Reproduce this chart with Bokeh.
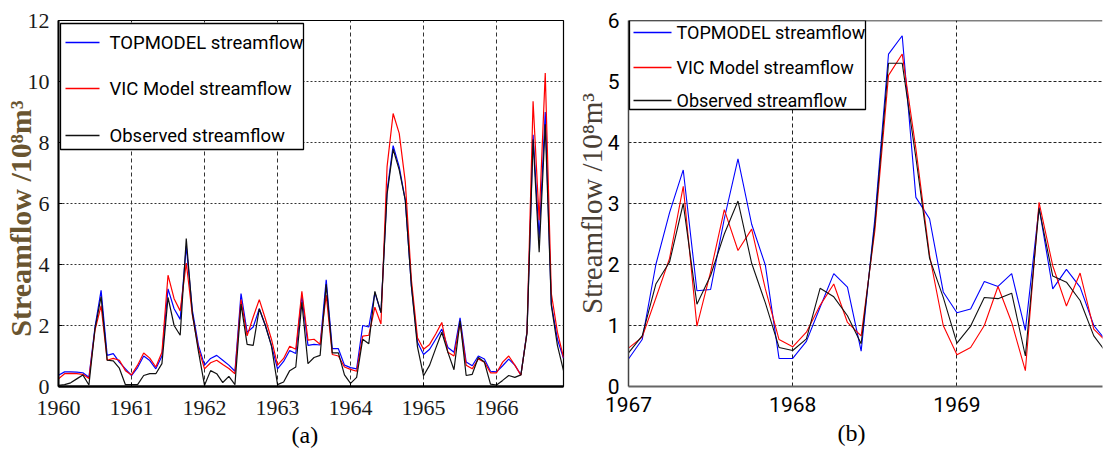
from bokeh.plotting import figure
from bokeh.layouts import row
from bokeh.models import FixedTicker, Label, Range1d, Title, BoxAnnotation, Arrow, Span
from bokeh.embed import file_html
from bokeh.resources import INLINE

# ---------------- data: panel (a), monthly 1960-01 .. 1966-12 ----------------
start_a = 1960
years_a = [1960, 1961, 1962, 1963, 1964, 1965, 1966]
yticks_a = [0, 2, 4, 6, 8, 10, 12]
topmodel_a = [0.37, 0.48, 0.48, 0.47, 0.45, 0.30, 1.95, 3.15, 1.02, 1.08, 0.80, 0.58,
              0.36, 0.62, 1.00, 0.85, 0.58, 1.00, 3.20, 2.55, 2.20, 4.60, 2.50, 1.35,
              0.70, 0.92, 1.02, 0.86, 0.70, 0.50, 3.05, 1.78, 1.95, 2.55, 2.00, 1.35,
              0.58, 0.82, 1.18, 1.08, 2.98, 1.35, 1.38, 1.36, 3.50, 1.24, 1.24, 0.70,
              0.62, 0.58, 2.00, 1.95, 3.08, 2.42, 6.40, 7.90, 7.20, 6.10, 3.30, 1.45,
              1.05, 1.22, 1.55, 1.88, 1.28, 1.12, 2.25, 0.80, 0.68, 1.00, 0.90, 0.50,
              0.48, 0.68, 0.90, 0.70, 0.38, 1.80, 8.25, 4.85, 9.00, 2.70, 1.55, 0.92]
vic_a = [0.25, 0.42, 0.43, 0.42, 0.40, 0.26, 1.85, 2.65, 0.86, 0.92, 0.86, 0.52,
         0.38, 0.70, 1.10, 0.93, 0.64, 1.12, 3.65, 2.88, 2.48, 4.05, 2.35, 1.25,
         0.58, 0.78, 0.86, 0.72, 0.59, 0.42, 2.85, 1.66, 2.28, 2.85, 2.22, 1.55,
         0.70, 0.92, 1.32, 1.22, 3.12, 1.52, 1.55, 1.38, 3.00, 1.05, 1.00, 0.64,
         0.56, 0.50, 1.65, 1.68, 2.60, 2.05, 7.20, 8.95, 8.30, 6.70, 3.50, 1.60,
         1.22, 1.38, 1.72, 2.10, 1.12, 1.00, 2.10, 0.70, 0.58, 0.90, 0.80, 0.45,
         0.45, 0.80, 1.00, 0.70, 0.37, 1.78, 9.35, 5.45, 10.28, 3.05, 1.78, 0.95]
obs_a = [0.04, 0.06, 0.12, 0.25, 0.38, 0.05, 1.90, 2.95, 0.86, 0.84, 0.60, 0.06,
         0.06, 0.06, 0.36, 0.42, 0.42, 0.75, 2.92, 2.00, 1.68, 4.85, 2.40, 1.15,
         0.04, 0.52, 0.42, 0.13, 0.33, 0.06, 2.70, 1.38, 1.35, 2.55, 2.00, 1.33,
         0.06, 0.15, 0.52, 0.64, 2.76, 0.75, 0.95, 1.02, 3.35, 1.10, 1.10, 0.38,
         0.10, 0.30, 1.55, 1.40, 3.12, 2.42, 6.30, 7.78, 7.10, 6.10, 3.30, 1.30,
         0.35, 0.70, 1.25, 1.78, 1.12, 0.55, 2.15, 0.36, 0.40, 0.95, 0.80, 0.08,
         0.05, 0.20, 0.36, 0.30, 0.38, 1.75, 8.10, 4.40, 8.60, 2.66, 1.35, 0.52]

# ---------------- data: panel (b), monthly 1967-01 .. 1969-12 ----------------
start_b = 1967
years_b = [1967, 1968, 1969]
yticks_b = [0, 1, 2, 3, 4, 5, 6]
topmodel_b = [0.45, 0.77, 2.00, 2.85, 3.55, 1.57, 1.59, 2.75, 3.73, 2.66, 1.99, 0.46,
              0.46, 0.74, 1.30, 1.85, 1.63, 0.58, 2.75, 5.45, 5.75, 3.10, 2.75, 1.55,
              1.21, 1.27, 1.72, 1.64, 1.85, 0.92, 2.94, 1.60, 1.92, 1.63, 1.00, 0.72]
vic_b = [0.63, 0.81, 1.45, 2.10, 3.28, 0.99, 1.88, 2.90, 2.23, 2.58, 1.60, 0.77,
         0.65, 0.89, 1.33, 1.68, 1.05, 0.83, 2.55, 5.10, 5.45, 3.90, 2.15, 1.00,
         0.52, 0.64, 1.00, 1.64, 1.05, 0.26, 3.02, 1.98, 1.32, 1.86, 0.94, 0.72]
obs_b = [0.55, 0.83, 1.68, 2.04, 3.00, 1.35, 1.82, 2.50, 3.04, 2.02, 1.37, 0.64,
         0.59, 0.78, 1.61, 1.47, 1.16, 0.70, 2.65, 5.30, 5.30, 3.75, 2.10, 1.46,
         0.71, 0.99, 1.46, 1.44, 1.53, 0.50, 2.92, 1.81, 1.71, 1.41, 0.83, 0.53]

series_names = ["TOPMODEL streamflow", "VIC Model streamflow", "Observed streamflow"]
series_colors = ["#0000ff", "#ff0000", "#111111"]
ylabel_text = "Streamflow /10\u2078m\u00b3"


def month_x(start, n):
    return [start + i / 12.0 for i in range(n)]


def manual_legend(p, box, rows_y, gx0, gx1, tx, font, size, border_w):
    left, right, top, bottom = box
    p.add_layout(BoxAnnotation(left=left, right=right, top=top, bottom=bottom,
                               left_units="screen", right_units="screen",
                               top_units="screen", bottom_units="screen",
                               fill_color="white", fill_alpha=1.0,
                               line_color="black", line_width=border_w, line_alpha=1.0))
    for yy, name, col in zip(rows_y, series_names, series_colors):
        p.add_layout(Arrow(end=None, x_start=gx0, x_end=gx1, y_start=yy, y_end=yy,
                           start_units="screen", end_units="screen",
                           line_color=col, line_width=1.4))
        p.add_layout(Label(x=tx, y=yy, x_units="screen", y_units="screen", text=name,
                           text_align="left", text_baseline="middle",
                           text_font=font, text_font_size=size, text_color="black"))


H = 458
TOP = 20
BOTTOM = 72

# ---------------- panel (a) ----------------
xa = month_x(start_a, len(obs_a))
p1 = figure(width=572, height=H, output_backend="svg", toolbar_location=None,
            x_range=Range1d(start_a, xa[-1]), y_range=Range1d(0, 12),
            min_border_left=56, min_border_right=9, min_border_top=TOP, min_border_bottom=BOTTOM)
for ys, col in zip([topmodel_a, vic_a, obs_a], series_colors):
    p1.line(xa, ys, line_color=col, line_width=1.2)

p1.xaxis.ticker = FixedTicker(ticks=years_a)
p1.yaxis.ticker = FixedTicker(ticks=yticks_a)
for ax in (p1.xaxis[0], p1.yaxis[0]):
    ax.major_label_text_font = "Liberation Serif"
    ax.major_label_text_font_size = "22px"
    ax.major_label_text_color = "#1a1a1a"
    ax.major_tick_in = 4
    ax.major_tick_out = 0
    ax.minor_tick_line_color = None
    ax.axis_line_color = "black"
p1.xaxis.axis_line_width = 2.5
p1.yaxis.axis_line_width = 2
p1.xaxis.major_label_standoff = 14
p1.yaxis.major_label_standoff = 9
# trailing no-break spaces move the rotated title a little down, as in the reference
p1.yaxis.axis_label = ylabel_text + "\u00a0\u00a0\u00a0\u00a0"
p1.yaxis.axis_label_text_font = "Liberation Serif"
p1.yaxis.axis_label_text_font_style = "bold"
p1.yaxis.axis_label_text_font_size = "30px"
p1.yaxis.axis_label_text_color = "#6a5530"
p1.yaxis.axis_label_standoff = -12
p1.xgrid.grid_line_color = "#333333"
p1.xgrid.grid_line_dash = "4 3"
p1.ygrid.grid_line_color = "#333333"
p1.ygrid.grid_line_dash = "2 2"
p1.outline_line_color = "black"
p1.outline_line_width = 1.2

manual_legend(p1, (2, 245, 363, 237), [344, 298, 251], 7, 41, 51, "Roboto", "18.5px", 1.3)
p1.add_layout(Title(text="(a)", align="left", offset=233, standoff=5,
                    text_font="Liberation Serif", text_font_size="24px",
                    text_font_style="normal", text_color="black"), "below")

# ---------------- panel (b) ----------------
xb = month_x(start_b, len(obs_b))
p2 = figure(width=531, height=H, output_backend="svg", toolbar_location=None,
            x_range=Range1d(start_b, start_b + 480 / 166.3), y_range=Range1d(0, 6),
            min_border_left=50, min_border_right=1, min_border_top=TOP, min_border_bottom=BOTTOM)
for ys, col in zip([topmodel_b, vic_b, obs_b], series_colors):
    p2.line(xb, ys, line_color=col, line_width=1.1)

p2.xaxis.ticker = FixedTicker(ticks=years_b)
p2.yaxis.ticker = FixedTicker(ticks=yticks_b)
for ax in (p2.xaxis[0], p2.yaxis[0]):
    ax.major_label_text_font = "Roboto"
    ax.major_label_text_font_size = "21px"
    ax.major_label_text_color = "black"
    ax.major_tick_in = 0
    ax.major_tick_out = 0
    ax.minor_tick_line_color = None
p2.xaxis.axis_line_color = "#666666"
p2.xaxis.axis_line_width = 2.2
p2.yaxis.axis_line_color = "#444444"
p2.yaxis.axis_line_width = 1.5
p2.xaxis.major_label_standoff = 10
p2.yaxis.major_label_standoff = 9
p2.yaxis.axis_label = ylabel_text
p2.yaxis.axis_label_text_font = "Liberation Serif"
p2.yaxis.axis_label_text_font_style = "normal"
p2.yaxis.axis_label_text_font_size = "29px"
p2.yaxis.axis_label_text_color = "#4a4036"
p2.yaxis.axis_label_standoff = -3
p2.xgrid.grid_line_color = "#222222"
p2.xgrid.grid_line_dash = "4 3"
p2.ygrid.grid_line_color = "#222222"
p2.ygrid.grid_line_dash = "3 2"
p2.outline_line_color = None
p2.add_layout(Span(location=yticks_b[-1], dimension="width", line_color="black", line_width=1.5))

manual_legend(p2, (1, 237, 366, 277), [354, 319, 286], 5, 43, 48, "Roboto", "18px", 1.3)
p2.add_layout(Title(text="(b)", align="left", offset=209, standoff=6,
                    text_font="Liberation Serif", text_font_size="24px",
                    text_font_style="normal", text_color="black"), "below")

layout = row(p1, p2)
open("out.html", "w").write(file_html(layout, INLINE))
